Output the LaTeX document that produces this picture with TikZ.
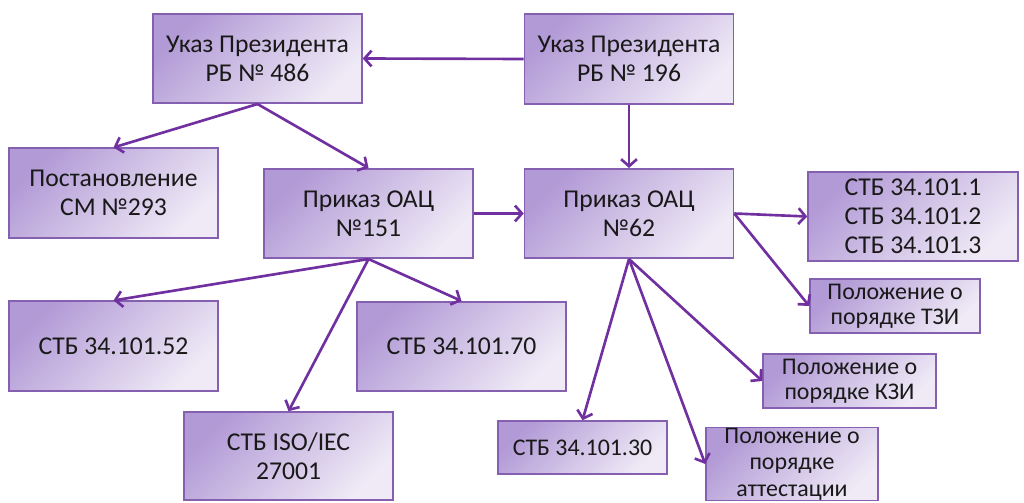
\documentclass[tikz,border=0pt]{standalone}
\usepackage{fontspec}
\setmainfont{Carlito}
\usetikzlibrary{arrows.meta}
\definecolor{boxdark}{HTML}{B29AD6}
\definecolor{boxlight}{HTML}{EFEAF6}
\definecolor{boxline}{HTML}{8660B0}
\definecolor{arrowpurple}{HTML}{7030A0}
\begin{document}
\begin{tikzpicture}[
        x=0.02cm, y=-0.02cm,
        doc/.style={draw=boxline, line width=0.9pt, top color=boxdark, bottom color=boxlight,
            shading angle=45, align=center, text=black!90, inner sep=2pt,
            font=\fontsize{14.6}{16.5}\selectfont},
        bigdoc/.style={doc, minimum width=4.18cm, minimum height=1.79cm},
        smalldoc/.style={doc, minimum width=3.44cm, minimum height=1.08cm,
            font=\fontsize{13.6}{14.4}\selectfont},
        arr/.style={arrowpurple, line width=1.5pt, -{Straight Barb[length=4pt, width=9pt, line width=1.5pt]}}
    ]

        \useasboundingbox (0,0) rectangle (1024,503);

        \node[bigdoc] (u486) at (257.5,58.5) {Указ Президента\\РБ № 486};
        \node[bigdoc] (u196) at (629,59) {Указ Президента\\РБ № 196};

        \node[bigdoc] (post293) at (113.5,193) {Постановление\\СМ №293};
        \node[bigdoc] (p151) at (368.5,213.5) {Приказ ОАЦ\\№151};
        \node[bigdoc] (p62) at (629,213.5) {Приказ ОАЦ\\№62};
        \node[bigdoc, minimum width=4.2cm] (stb1) at (913,216.5) {СТБ 34.101.1\\СТБ 34.101.2\\СТБ 34.101.3};

        \node[smalldoc, minimum width=3.4cm] (tzi) at (895,306) {Положение о\\порядке ТЗИ};
        \node[bigdoc] (stb52) at (113.5,346) {СТБ 34.101.52};
        \node[bigdoc] (stb70) at (461.5,346.5) {СТБ 34.101.70};
        \node[smalldoc, minimum width=3.46cm] (kzi) at (849.5,381) {Положение о\\порядке КЗИ};

        \node[bigdoc, minimum height=1.76cm] (iso) at (288.5,456) {СТБ ISO/IEC\\27001};
        \node[smalldoc, minimum width=3.38cm, minimum height=1.06cm] (stb30) at (582.5,447.5) {СТБ 34.101.30};
        \node[smalldoc, minimum height=1.44cm, inner sep=0pt,
            font=\fontsize{13.6}{15.2}\selectfont] (att) at (792,464) {Положение о\\порядке\\аттестации};

        \draw[arr] (u196.west) -- (u486.east);
        \draw[arr] (u486.south) -- (post293.north);
        \draw[arr] (u486.south) -- (p151.north);
        \draw[arr] (u196.south) -- (p62.north);
        \draw[arr] (p151.east) -- (p62.west);

        \foreach \t in {stb52, iso, stb70}
            \draw[arr] (p151.south) -- (\t.north);

        \draw[arr] (p62.east) -- (stb1.west);
        \draw[arr] (p62.east) -- (tzi.west);
        \draw[arr] (p62.south) -- (stb30.north);
        \draw[arr] (p62.south) -- (att.west);
        \draw[arr] (p62.south) -- (kzi.west);
    \end{tikzpicture}
\end{document}
